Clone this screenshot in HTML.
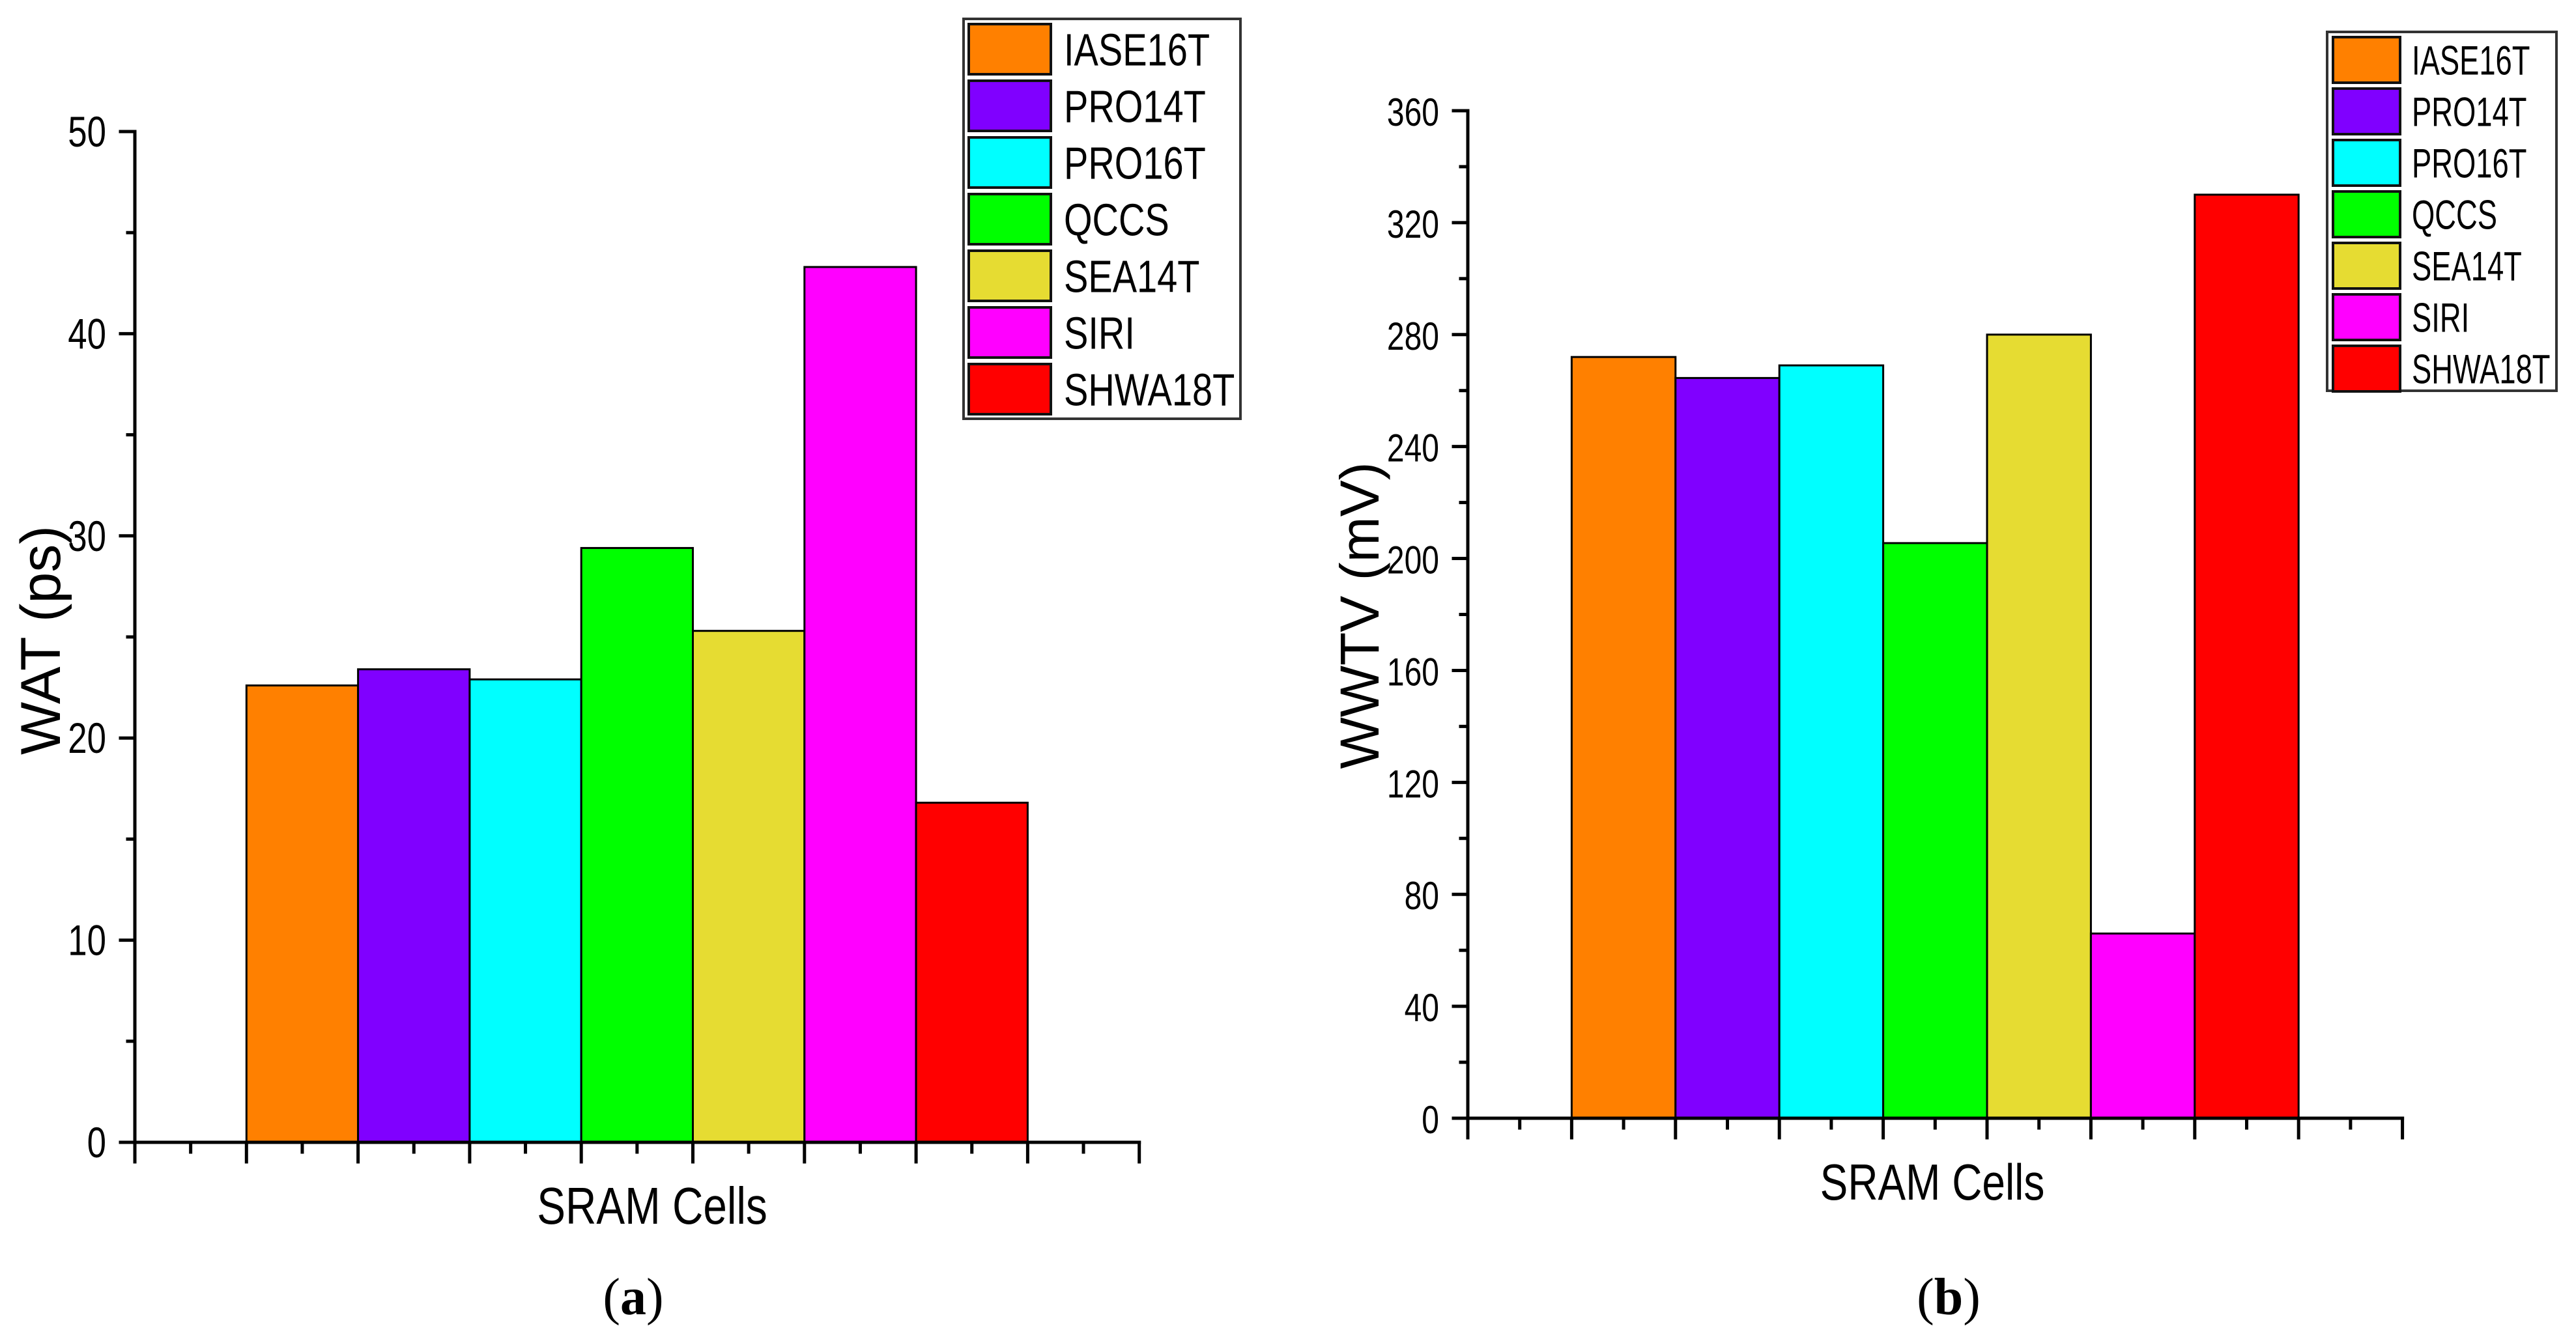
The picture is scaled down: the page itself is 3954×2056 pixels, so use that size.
<!DOCTYPE html>
<html><head><meta charset="utf-8"><style>
html,body{margin:0;padding:0;background:#fff;}
svg{display:block;font-family:"Liberation Sans",Arial,sans-serif;}
</style></head><body>
<svg id="root" width="3954" height="2056" viewBox="0 0 3954 2056" xmlns="http://www.w3.org/2000/svg">
<rect width="3954" height="2056" fill="#fff"/>
</svg>
<script>
// ---- data ----
const categories = ["IASE16T","PRO14T","PRO16T","QCCS","SEA14T","SIRI","SHWA18T"];
const colors = ["#ff8000","#8000ff","#00ffff","#00ff00","#e6dc32","#ff00ff","#ff0000"];
const watValues = [22.6, 23.4, 22.9, 29.4, 25.3, 43.3, 16.8];
const wwtvValues = [272, 264.5, 269, 205.5, 280, 66, 330];
const watTicks = [0,10,20,30,40,50];
const wwtvTicks = [0,40,80,120,160,200,240,280,320,360];

const NS = "http://www.w3.org/2000/svg";
const root = document.getElementById('root');
function el(tag, attrs, parent){
  const e = document.createElementNS(NS, tag);
  for (const k in attrs) e.setAttribute(k, attrs[k]);
  (parent||root).appendChild(e);
  return e;
}
function txt(parent, x, y, s, size, anchor, sx, extra){
  const t = el('text', {x:0, y:0, 'font-size':size, 'text-anchor':anchor||'start', fill:'#000',
    transform:`translate(${x},${y}) scale(${sx||1},1)` + (extra||'')}, parent);
  t.textContent = s;
  return t;
}

function chart(cfg){
  const g = el('g', {});
  
  
  const yScale = v => cfg.y0 - (v - 0) / cfg.yMax * (cfg.y0 - cfg.yTop);
  const xCat = i => cfg.x0 + (i + 1) * cfg.step;
  cfg.values.forEach((v, i) => {
    const r = el('rect', {x:xCat(i), y:yScale(v), width:cfg.step, height:cfg.y0 - yScale(v),
      fill:colors[i], stroke:'#000', 'stroke-width':3}, g);
    
    
  });
  const ax = el('g', {stroke:'#000', 'stroke-width':5, 'stroke-linecap':'square'}, g);
  
  
  el('line', {x1:cfg.x0, y1:cfg.yTop, x2:cfg.x0, y2:cfg.y0}, ax);
  el('line', {x1:cfg.x0, y1:cfg.y0, x2:cfg.x0 + 9*cfg.step, y2:cfg.y0}, ax);
  for (let i = 0; i <= 9; i++){
    const x = cfg.x0 + i*cfg.step;
    el('line', {x1:x, y1:cfg.y0, x2:x, y2:cfg.y0 + 30}, ax);
    if (i < 9) el('line', {x1:x + cfg.step/2, y1:cfg.y0, x2:x + cfg.step/2, y2:cfg.y0 + 15}, ax);
  }
  const tl = el('g', {}, g);
  
  
  cfg.ticks.forEach((t, i) => {
    const y = yScale(t);
    el('line', {x1:cfg.x0 - 22, y1:y, x2:cfg.x0, y2:y}, ax);
    if (i < cfg.ticks.length - 1){
      const ym = yScale(t + cfg.minor);
      el('line', {x1:cfg.x0 - 11, y1:ym, x2:cfg.x0, y2:ym}, ax);
    }
    txt(tl, cfg.x0 - 44, y + 23, String(t), cfg.tickFont, 'end', 0.8);
  });
  const yt = txt(g, cfg.yTitleX, cfg.yTitleY, cfg.yTitle, cfg.yTitleFont, 'middle', 1, '');
  yt.setAttribute('transform', `translate(${cfg.yTitleX},${cfg.yTitleY}) rotate(-90) scale(1,1)`);
  
  
  const xt = txt(g, cfg.xTitleX, cfg.xTitleY, 'SRAM Cells', cfg.titleFont, 'middle', 0.82);
  
  
  const lg = el('g', {}, g);
  
  
  el('rect', {x:cfg.lx, y:cfg.ly, width:cfg.lw, height:cfg.lh, fill:'#fff', stroke:'#333', 'stroke-width':4}, lg);
  categories.forEach((c, i) => {
    const e = el('g', {}, lg);
    
    
    const y = cfg.ly + cfg.lpad + i*cfg.lpitch;
    el('rect', {x:cfg.sx, y:y, width:cfg.sw, height:cfg.sh, fill:colors[i], stroke:'#111', 'stroke-width':4}, e);
    txt(e, cfg.ltx, y + cfg.sh/2 + cfg.lfont*0.36, c, cfg.lfont, 'start', cfg.lsx);
  });
  const pl = el('text', {x:cfg.plX, y:2018, 'font-size':80, 'text-anchor':'middle',
    'font-family':'"Liberation Serif",serif', fill:'#000'}, g);
  
  
  pl.innerHTML = '(<tspan font-weight="bold">' + cfg.panel + '</tspan>)';
}

chart({name:'chart-a-wat', values:watValues, ticks:watTicks, yMax:50, minor:5,
  x0:207, y0:1754, yTop:202, step:171.3, tickFont:66, titleFont:80, yTitleFont:86,
  yTitle:'WAT (ps)', yTitleX:92, yTitleY:983, xTitleX:1001, xTitleY:1879,
  lx:1479, ly:29, lw:425, lh:614, lpad:8, lpitch:87, sx:1487, sw:126, sh:77, ltx:1633, lfont:70, lsx:0.8,
  plX:972, panel:'a'});

chart({name:'chart-b-wwtv', values:wwtvValues, ticks:wwtvTicks, yMax:360, minor:20,
  x0:2253, y0:1717, yTop:170, step:159.4, tickFont:60, titleFont:78, yTitleFont:84,
  yTitle:'WWTV (mV)', yTitleX:2116, yTitleY:945, xTitleX:2966, xTitleY:1842,
  lx:3572, ly:49, lw:352, lh:551, lpad:8, lpitch:79, sx:3581, sw:103, sh:70, ltx:3702, lfont:63, lsx:0.72,
  plX:2991, panel:'b'});
</script>
</body></html>
